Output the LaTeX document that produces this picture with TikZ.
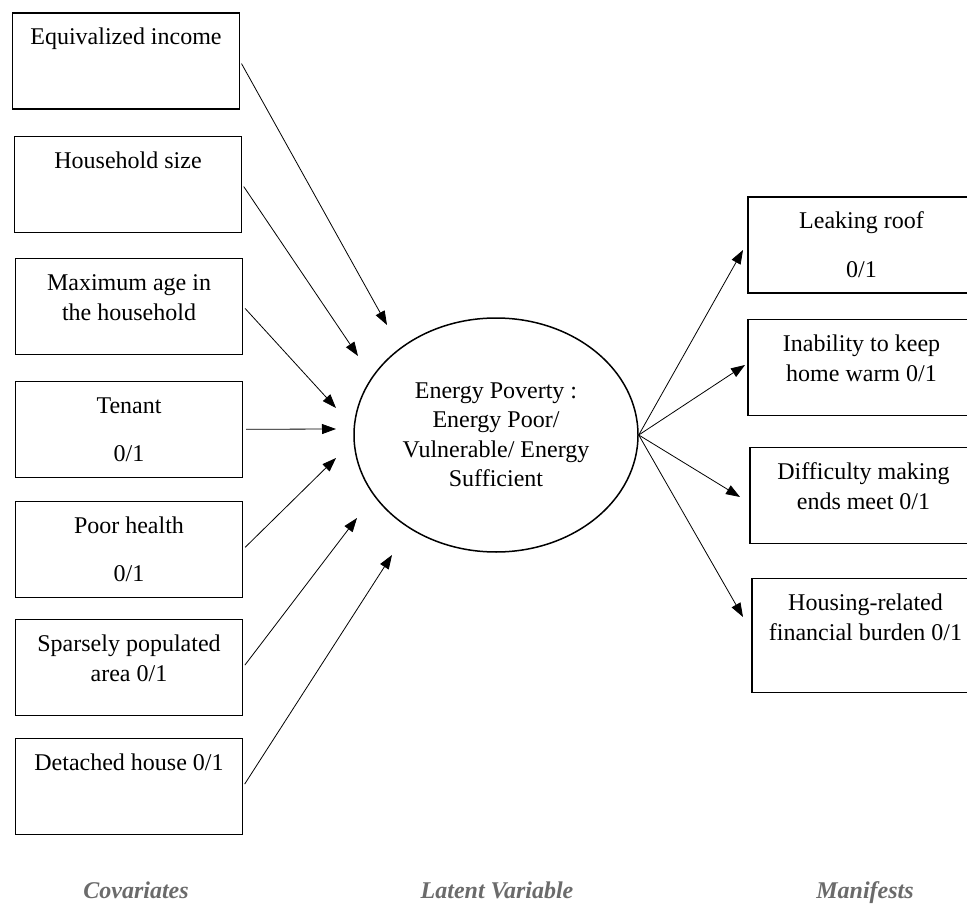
\documentclass[tikz,border=0pt]{standalone}
\usepackage{fontspec}
\setmainfont{Liberation Serif}
\usetikzlibrary{positioning,shapes.geometric,arrows.meta}
\newcommand{\cell}[2][74pt]{\parbox[c][#1][t]{215pt}{\centering\strut #2}}

\begin{document}
\begin{tikzpicture}[x=1pt,y=-1pt,node distance=25pt]
    \tikzstyle{varbox}=[rectangle, draw, line width=1.1pt, inner xsep=6pt, inner ysep=11pt, font=\fontsize{24}{30}\selectfont]
    \tikzstyle{latent}=[ellipse, draw, line width=1.5pt, minimum width=284pt, minimum height=234pt, inner sep=0pt, align=center, font=\fontsize{24}{29.5}\selectfont]
    \tikzstyle{link}=[-{Triangle[length=14pt,width=10pt]}, line width=0.8pt]
    \tikzstyle{caption}=[anchor=base, text=black!58, font=\fontsize{24}{30}\selectfont\bfseries\itshape]

    \useasboundingbox (0,0) rectangle (967,904);
    \clip (0,0) rectangle (967,904);

    % covariates
    \node[varbox] (inc) at (126,61) {\cell{Equivalized income}};
    \node[varbox, below=26pt of inc, xshift=2pt] (hhs) {\cell{Household size}};
    \node[varbox, below=25pt of hhs, xshift=1pt] (age) {\cell{Maximum age in\\ the household}};
    \node[varbox, below=26pt of age] (ten) {\cell{Tenant\\[18pt] 0/1}};
    \node[varbox, below=23pt of ten] (hlth) {\cell{Poor health\\[18pt] 0/1}};
    \node[varbox, below=21pt of hlth] (spa) {\cell{Sparsely populated\\ area 0/1}};
    \node[varbox, below=22pt of spa] (det) {\cell{Detached house 0/1}};

    % latent variable
    \node[latent] (ep) at (496,435) {Energy Poverty :\\ Energy Poor/\\ Vulnerable/ Energy\\ Sufficient};

    % manifests
    \node[varbox] (roof) at (861.5,245) {\cell{Leaking roof\\[18pt] 0/1}};
    \node[varbox, below=25pt of roof] (warm) {\cell{Inability to keep\\ home warm 0/1}};
    \node[varbox, below=31pt of warm, xshift=2pt] (ends) {\cell{Difficulty making\\ ends meet 0/1}};
    \node[varbox, below=34pt of ends, xshift=2pt] (hse) {\cell[92pt]{Housing-related\\ financial burden 0/1}};

    % arrow tips
    \coordinate (a1) at (387,325);
    \coordinate (a2) at (358,356);
    \coordinate (a3) at (336,408);
    \coordinate (a4) at (336,429);
    \coordinate (a5) at (336,458);
    \coordinate (a6) at (357,518);
    \coordinate (a7) at (392,555);
    \coordinate (b1) at (743,250);
    \coordinate (b2) at (745,365);
    \coordinate (b3) at (740,497);
    \coordinate (b4) at (743,617);

    \draw[link, shorten <=3pt] (inc.east) -- (a1);
    \draw[link, shorten <=3pt] (hhs.east) -- (a2);
    \draw[link, shorten <=3pt] (age.east) -- (a3);
    \draw[link, shorten <=3pt] (ten.east) -- (a4);
    \draw[link, shorten <=3pt] (hlth.east) -- (a5);
    \draw[link, shorten <=3pt] (spa.east) -- (a6);
    \draw[link, shorten <=3pt] (det.east) -- (a7);

    \draw[link] (ep.east) -- (b1);
    \draw[link] (ep.east) -- (b2);
    \draw[link] (ep.east) -- (b3);
    \draw[link] (ep.east) -- (b4);

    % column captions
    \node[caption] (cov) at (136,898) {Covariates};
    \node[caption] (lat) at (497,898) {Latent Variable};
    \node[caption] (man) at (865,898) {Manifests};
\end{tikzpicture}
\end{document}
